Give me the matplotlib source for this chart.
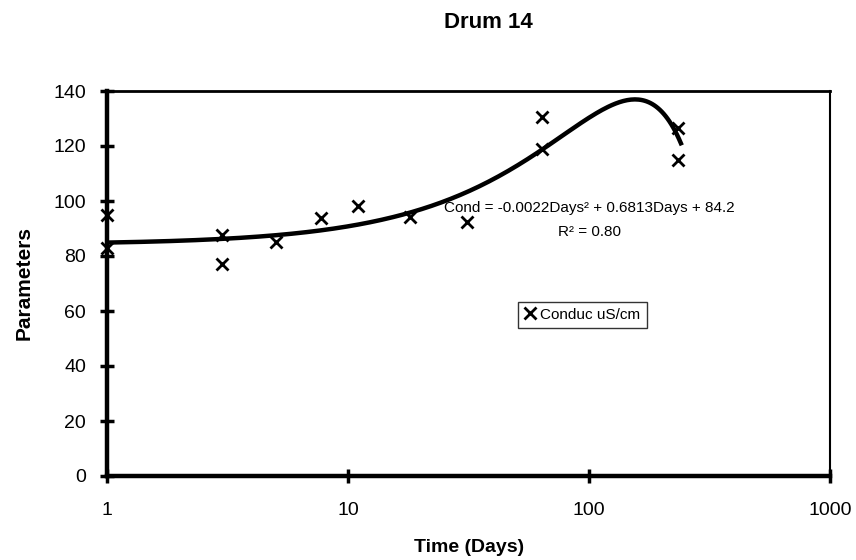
import numpy as np
import matplotlib
matplotlib.use("Agg")
from matplotlib import pyplot as plt

plt.rcParams['font.family'] = ['Liberation Sans', 'DejaVu Sans']

days = [1, 1, 3, 3, 5, 7.7, 11, 18, 31, 64, 64, 233, 233]
conduc = [95, 83, 87.6, 77, 85.2, 93.7, 98.2, 94.3, 92.5, 130.4, 118.8, 126.4, 114.9]

# polynomial trendline as printed on the chart
trend_coef = [-0.0022, 0.6813, 84.2]
trend_range = [1, 240]

x_ticks = [1, 10, 100, 1000]
y_ticks = [0, 20, 40, 60, 80, 100, 120, 140]

fig = plt.figure(figsize=(8.56, 5.6), dpi=100)
ax = fig.add_axes([0.125, 0.15, 0.845, 0.6875])

# trendline
tx = np.logspace(np.log10(trend_range[0]), np.log10(trend_range[1]), 300)
ty = np.polyval(trend_coef, tx)
ax.plot(tx, ty, color='black', lw=3.2, zorder=2)

# data points
ax.plot(days, conduc, linestyle='none', marker='x', color='black',
        markersize=8, markeredgewidth=2, label='Conduc uS/cm', zorder=3,
        clip_on=False)

ax.set_xscale('log')
ax.set_xlim(1, 1000)
ax.set_ylim(0, 140)
ax.set_xticks(x_ticks)
ax.set_xticklabels([str(t) for t in x_ticks])
ax.set_yticks(y_ticks)
ax.minorticks_off()
ax.tick_params(axis='both', direction='inout', length=10, width=2.5,
               labelsize=14, color='black')
ax.tick_params(axis='x', pad=14)
ax.tick_params(axis='y', pad=10)

ax.spines['left'].set_linewidth(3.2)
ax.spines['bottom'].set_linewidth(3.2)
ax.spines['top'].set_linewidth(2)
ax.spines['right'].set_linewidth(1.5)

ax.set_xlabel('Time (Days)', fontsize=14, fontweight='bold', labelpad=14)
ax.set_ylabel('Parameters', fontsize=15, fontweight='bold', labelpad=14)
fig.text(0.571, 0.959, 'Drum 14', fontsize=16, fontweight='bold',
         ha='center', va='center')

# trendline equation
fig.text(0.689, 0.629, 'Cond = -0.0022Days² + 0.6813Days + 84.2',
         fontsize=11, ha='center', va='center')
fig.text(0.689, 0.586, 'R² = 0.80', fontsize=11, ha='center', va='center')

leg = ax.legend(loc='center', bbox_to_anchor=(0.680, 0.438),
                bbox_transform=fig.transFigure, fontsize=11, frameon=True,
                fancybox=False, edgecolor='black', handlelength=0.8,
                handletextpad=0.3, borderpad=0.4, borderaxespad=0)
leg.get_frame().set_linewidth(1.0)

fig.savefig('out.png', dpi=100)
